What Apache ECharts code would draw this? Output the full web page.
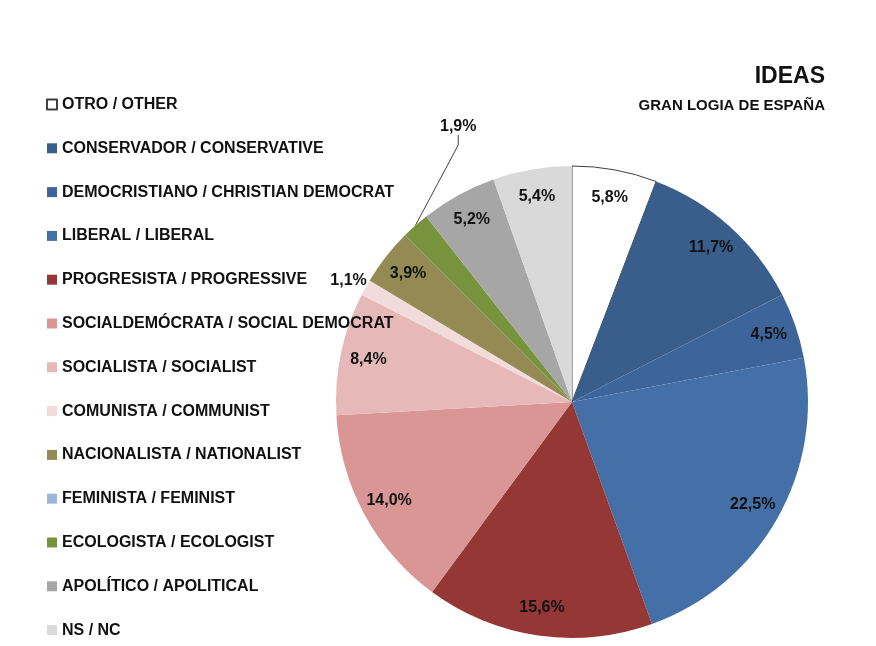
<!DOCTYPE html>
<html>
<head>
<meta charset="utf-8">
<script src="https://cdn.jsdelivr.net/npm/echarts@6/dist/echarts.min.js"></script>
<style>
  html, body { margin: 0; padding: 0; background: #fff; }
  #chart { width: 876px; height: 646px; }
</style>
</head>
<body>
<div id="chart"></div>
<script>
// categories (legend order = slice order, clockwise from 12 o'clock)
const categories = [
  'OTRO / OTHER',
  'CONSERVADOR / CONSERVATIVE',
  'DEMOCRISTIANO / CHRISTIAN DEMOCRAT',
  'LIBERAL / LIBERAL',
  'PROGRESISTA / PROGRESSIVE',
  'SOCIALDEMÓCRATA / SOCIAL DEMOCRAT',
  'SOCIALISTA / SOCIALIST',
  'COMUNISTA / COMMUNIST',
  'NACIONALISTA / NATIONALIST',
  'FEMINISTA / FEMINIST',
  'ECOLOGISTA / ECOLOGIST',
  'APOLÍTICO / APOLITICAL',
  'NS / NC'
]
// percentages
const values = [5.8, 11.7, 4.5, 22.5, 15.6, 14.0, 8.4, 1.1, 3.9, 0, 1.9, 5.2, 5.4]

const colors = [
  '#ffffff', '#395e8c', '#3e659b', '#4470a7', '#953735', '#d99694', '#e6b9b8',
  '#f2dcdb', '#948a54', '#9fb5d8', '#77933c', '#a6a6a6', '#d9d9d9'
]

const font = '"Liberation Sans", Arial, sans-serif'
const chart = echarts.init(document.getElementById('chart'))

const mainData = categories.map((name, i) => {
  const item = { name: name, value: values[i], itemStyle: { color: colors[i] } }
  if (i === 0) {
    item.itemStyle.borderColor = '#404040'
    item.itemStyle.borderWidth = 1
  }
  return item
})

// transparent ring carrying the labels near the outer edge
const labelData = categories.map((name, i) => {
  const item = { name: name, value: values[i] }
  if (values[i] === 0) {
    item.label = { show: false }
  } else if (name === 'COMUNISTA / COMMUNIST') {
    item.label = { position: 'outside' }
    item.labelLine = { show: false, length: 2, length2: 0 }
  } else if (name === 'ECOLOGISTA / ECOLOGIST') {
    item.label = { position: 'outside' }
    item.labelLine = { show: true, length: 20, length2: 10, lineStyle: { color: '#404040', width: 1 } }
  }
  return item
})

const option = {
  animation: false,
  title: [
    {
      text: 'IDEAS',
      right: 46,
      top: 60,
      textStyle: { fontFamily: font, fontSize: 23, fontWeight: 'bold', color: '#111' }
    },
    {
      text: 'GRAN LOGIA DE ESPAÑA',
      right: 46,
      top: 93,
      textStyle: { fontFamily: font, fontSize: 15, fontWeight: 'bold', color: '#111' }
    }
  ],
  legend: {
    orient: 'vertical',
    left: 41,
    top: 91,
    height: 570,
    data: categories,
    icon: 'rect',
    itemWidth: 10,
    itemHeight: 10,
    itemGap: 26.8,
    selectedMode: false,
    textStyle: { fontFamily: font, fontSize: 16, fontWeight: 'bold', color: '#111', lineHeight: 17 }
  },
  series: [
    {
      name: 'IDEAS',
      type: 'pie',
      center: [572, 402],
      radius: [0, 236],
      startAngle: 90,
      clockwise: true,
      silent: true,
      label: { show: false },
      labelLine: { show: false },
      itemStyle: { borderWidth: 0 },
      data: mainData
    },
    {
      name: 'labels',
      type: 'pie',
      center: [572, 402],
      radius: [174, 236],
      startAngle: 90,
      clockwise: true,
      silent: true,
      avoidLabelOverlap: false,
      itemStyle: { color: 'transparent', borderWidth: 0 },
      label: {
        show: true,
        position: 'inside',
        fontFamily: font,
        fontSize: 16,
        fontWeight: 'bold',
        color: '#111',
        formatter: p => p.value.toFixed(1).replace('.', ',') + '%'
      },
      labelLayout: function (p) {
        if (p.text === '1,9%') {
          return { x: 440, y: 127, align: 'left', verticalAlign: 'middle' }
        }
        if (p.text === '1,1%') {
          return { dx: 8, dy: -6 }
        }
      },
      data: labelData
    }
  ]
}

chart.setOption(option)
</script>
</body>
</html>
